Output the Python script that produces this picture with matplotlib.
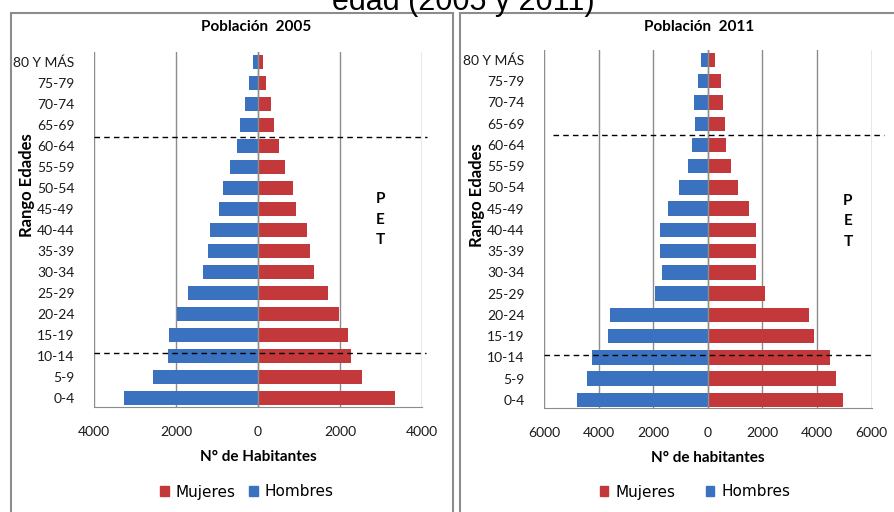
import numpy as np
import matplotlib.pyplot as plt
from matplotlib.patches import Rectangle, Patch

W, H = 894, 512

# age groups, from youngest (bottom) to oldest (top)
edades = ["0-4", "5-9", "10-14", "15-19", "20-24", "25-29", "30-34", "35-39",
          "40-44", "45-49", "50-54", "55-59", "60-64", "65-69", "70-74",
          "75-79", "80 Y MÁS"]

# 2005
hombres_2005 = [3280, 2550, 2205, 2165, 1970, 1710, 1330, 1215, 1170, 945,
                865, 675, 520, 440, 320, 210, 130]
mujeres_2005 = [3345, 2540, 2270, 2190, 1985, 1700, 1360, 1275, 1185, 930,
                845, 660, 505, 400, 320, 195, 130]

# 2011
hombres_2011 = [4790, 4430, 4250, 3640, 3570, 1930, 1675, 1735, 1735, 1455,
                1040, 710, 585, 475, 490, 365, 245]
mujeres_2011 = [4965, 4690, 4455, 3870, 3710, 2100, 1760, 1760, 1760, 1525,
                1120, 830, 670, 610, 550, 490, 270]

ticks_2005 = [-4000, -2000, 0, 2000, 4000]
ticks_2011 = [-6000, -4000, -2000, 0, 2000, 4000, 6000]

AZUL = "#3b72bf"
ROJO = "#c3393b"
GRIS = "#8c8c8c"
FONT = "Lato"


def fx(x):
    return x / W


def fy(y):
    return 1 - y / H


fig = plt.figure(figsize=(W / 100, H / 100), dpi=100)

# panel frames
for x0, x1 in [(11, 453), (460, 900)]:
    fig.patches.append(Rectangle((fx(x0), fy(530)), fx(x1 - x0), (530 - 13) / H,
                                 transform=fig.transFigure, fill=False,
                                 edgecolor=GRIS, lw=1.5))

# main title, cut by the top edge as in the source image
fig.text(fx(463), fy(10), "edad (2005 y 2011)", ha="center", va="baseline",
         fontsize=22, family="Liberation Sans", color="black")


def piramide(box, hombres, mujeres, ticks, ylim, titulo, xlabel, title_xy,
             ylab_xy, pet_x, pet_y, dash_up, dash_lo, leg_x, leg_gap):
    ax = fig.add_axes(box)
    y = np.arange(len(edades))
    ax.barh(y, -np.array(hombres), height=0.68, color=AZUL, zorder=2)
    ax.barh(y, mujeres, height=0.68, color=ROJO, zorder=2)
    ax.axvline(0, color=GRIS, lw=1, zorder=3)
    ax.set_xlim(ticks[0], ticks[-1])
    ax.set_ylim(*ylim)
    ax.set_xticks(ticks, [str(abs(t)) for t in ticks])
    ax.set_yticks(y, edades)
    ax.grid(axis="x", color=GRIS, lw=1, zorder=0)
    ax.set_axisbelow(True)
    for s in ["top", "left", "right"]:
        ax.spines[s].set_visible(False)
    ax.spines["bottom"].set_color(GRIS)
    ax.tick_params(length=0, labelsize=10, labelfontfamily=FONT,
                   labelcolor="#1a1a1a")
    ax.tick_params(axis="x", pad=14)
    ax.tick_params(axis="y", pad=14)
    ax.set_xlabel(xlabel, fontsize=11, fontweight="bold", family=FONT)
    ax.xaxis.set_label_coords(0.5, -0.14)
    ax.xaxis.label.set_va("center")

    # dashed separators for the PET range
    for (xa, xb, yy) in [dash_up, dash_lo]:
        ax.plot([xa, xb], [yy, yy], color="black", lw=1, ls=(0, (4, 3)),
                clip_on=False, zorder=4)
    ax.text(pet_x, pet_y, "P\nE\nT", ha="center", va="center", fontsize=11,
            fontweight="bold", family=FONT, linespacing=1.6)

    fig.text(fx(title_xy[0]), fy(title_xy[1]), titulo, ha="center",
             va="center", fontsize=11, fontweight="bold", family=FONT)
    fig.text(fx(ylab_xy[0]), fy(ylab_xy[1]), "Rango Edades", ha="center",
             va="center", rotation=90, fontsize=12, fontweight="bold",
             family=FONT)

    handles = [Patch(color=ROJO, label="Mujeres"), Patch(color=AZUL, label="Hombres")]
    fig.legend(handles=handles, loc="center", bbox_to_anchor=(fx(leg_x), fy(492)),
               ncol=2, frameon=False, handlelength=0.55, handleheight=0.55,
               handletextpad=0.45, columnspacing=leg_gap,
               prop={"family": "DejaVu Sans", "size": 11})
    return ax


piramide([fx(94), fy(407), fx(328), 355 / H], hombres_2005, mujeres_2005,
         ticks_2005, (-0.43, 16.48), "Población  2005", "N° de Habitantes",
         (256, 27), (27, 185), 2990, 8.5,
         (-4000, 4130, 12.44), (-4000, 4090, 2.16), 247, 0.9)

piramide([fx(544), fy(408), fx(327.7), 358 / H], hombres_2011, mujeres_2011,
         ticks_2011, (-0.38, 16.47), "Población  2011", "N° de habitantes",
         (699, 27), (477, 195), 5130, 8.4,
         (-5680, 6460, 12.47), (-6000, 6090, 2.12), 695, 2.0)

fig.savefig("out.png", dpi=100)
